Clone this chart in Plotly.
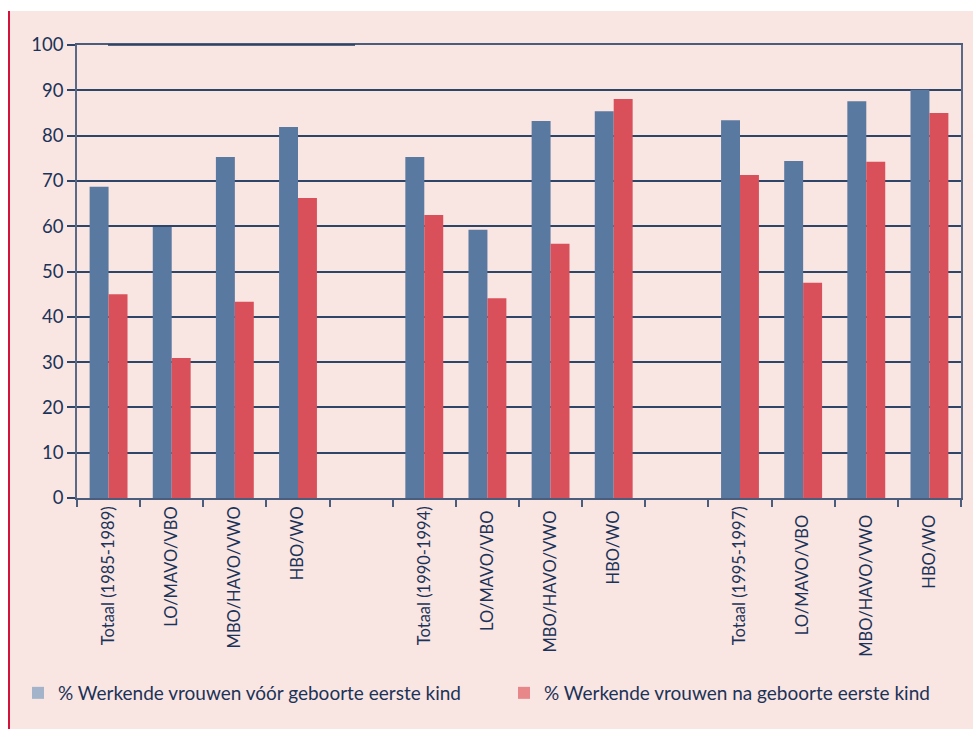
import plotly.graph_objects as go

# Categories: three periods, separated by empty slots
categories = [
    "Totaal (1985-1989)", "LO/MAVO/VBO", "MBO/HAVO/VWO", "HBO/WO", " ",
    "Totaal (1990-1994)", "LO/MAVO/VBO ", "MBO/HAVO/VWO ", "HBO/WO ", "  ",
    "Totaal (1995-1997)", "LO/MAVO/VBO  ", "MBO/HAVO/VWO  ", "HBO/WO  ",
]
voor_kind = [68.7, 59.8, 75.3, 81.9, None,
             75.3, 59.2, 83.2, 85.4, None,
             83.4, 74.4, 87.6, 90.1]
na_kind = [45.0, 30.9, 43.3, 66.2, None,
           62.5, 44.1, 56.1, 88.1, None,
           71.3, 47.5, 74.2, 85.0]
y_ticks = [0, 10, 20, 30, 40, 50, 60, 70, 80, 90, 100]

name_voor = "% Werkende vrouwen vóór geboorte eerste kind"
name_na = "% Werkende vrouwen na geboorte eerste kind"

BLUE = "#5a79a0"
RED = "#d9505a"
BLUE_LEG = "#a3b4ca"
RED_LEG = "#e8878a"
BG = "#f9e5e2"
NAVY = "#1b3358"
GRID = "#2f4568"
FONT = "Lato"

fig = go.Figure()
fig.add_trace(go.Bar(x=categories, y=voor_kind, marker_color=BLUE,
                     marker_line_width=0, showlegend=False))
fig.add_trace(go.Bar(x=categories, y=na_kind, marker_color=RED,
                     marker_line_width=0, showlegend=False))
# Legend entries with lighter swatches, one legend each
fig.add_trace(go.Scatter(x=[None], y=[None], mode="markers", name=name_voor,
                         legend="legend",
                         marker=dict(symbol="square", size=13, color=BLUE_LEG)))
fig.add_trace(go.Scatter(x=[None], y=[None], mode="markers", name=name_na,
                         legend="legend2",
                         marker=dict(symbol="square", size=13, color=RED_LEG)))

W, H = 973, 729
L, R, T, B = 77, 12, 45, 231
pw, ph = W - L - R, H - T - B


def px(x):
    return (x - L) / pw


def py(y):
    return (H - B - y) / ph


shapes = [
    # white strip above and left of the panel
    dict(type="rect", xref="paper", yref="paper", x0=px(0), x1=px(W),
         y0=py(11), y1=py(0), fillcolor="white", line_width=0, layer="below"),
    dict(type="rect", xref="paper", yref="paper", x0=px(0), x1=px(8),
         y0=py(H), y1=py(0), fillcolor="white", line_width=0, layer="below"),
    # red rule along the left edge
    dict(type="line", xref="paper", yref="paper", x0=px(9), x1=px(9),
         y0=py(H), y1=py(11), line=dict(color="#d2143c", width=2)),
    # dark segment on the top rule
    dict(type="line", xref="paper", yref="paper", x0=px(108), x1=px(355),
         y0=1, y1=1, line=dict(color="#243a5c", width=1.5)),
]

leg_common = dict(orientation="h", yanchor="middle", y=py(693),
                  xanchor="left", font=dict(size=19, color=NAVY),
                  bgcolor="rgba(0,0,0,0)", itemsizing="constant",
                  itemwidth=30)

fig.update_layout(
    width=W, height=H,
    margin=dict(l=L, r=R, t=T, b=B, autoexpand=False),
    paper_bgcolor=BG, plot_bgcolor=BG,
    barmode="group", bargap=0.4, bargroupgap=0,
    font=dict(family=FONT, color=NAVY),
    shapes=shapes,
    showlegend=True,
    legend=dict(x=px(18), **leg_common),
    legend2=dict(x=px(504), **leg_common),
    xaxis=dict(
        type="category", categoryorder="array", categoryarray=categories,
        tickangle=-90, tickfont=dict(size=16.5, color=NAVY), automargin=False,
        showgrid=False, showline=True, linecolor="#4a5d7c", linewidth=1.5,
        mirror=True, ticks="outside", tickson="boundaries", ticklen=7,
        tickcolor="#4a5d7c", tickwidth=1.5,
    ),
    yaxis=dict(
        range=[0, 100], tickvals=y_ticks, tickfont=dict(size=18.5, color=NAVY),
        showgrid=True, gridcolor=GRID, gridwidth=1.5, automargin=False,
        showline=True, linecolor="#5a6a86", linewidth=1.5, mirror=True,
        ticks="outside", ticklen=8, tickcolor=GRID, tickwidth=1.5,
        zeroline=False, fixedrange=True,
    ),
)

fig.write_html("out.html")
